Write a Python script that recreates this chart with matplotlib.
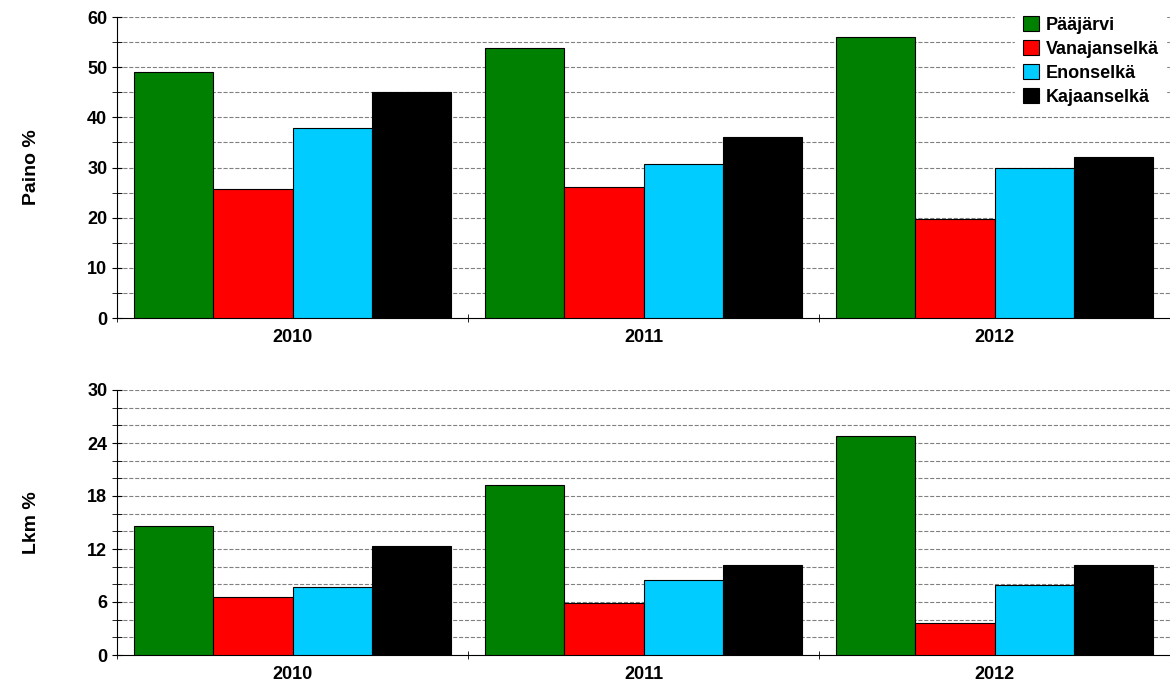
import matplotlib
matplotlib.use("Agg")
import matplotlib.pyplot as plt
import numpy as np

plt.rcParams['font.family'] = 'Liberation Sans'
plt.rcParams['font.weight'] = 'bold'

years = ["2010", "2011", "2012"]
lakes = ["Pääjärvi", "Vanajanselkä", "Enonselkä", "Kajaanselkä"]
colors = ["#008000", "#ff0000", "#00ccff", "#000000"]
paino = [[49, 53.8, 56], [25.8, 26.2, 19.8], [37.8, 30.7, 30], [45, 36, 32]]
lkm = [[14.6, 19.3, 24.8], [6.6, 5.9, 3.6], [7.7, 8.5, 7.9], [12.3, 10.2, 10.2]]

fig = plt.figure(figsize=(11.7, 6.94), dpi=100)
ax1 = fig.add_axes([117/1170, 1-318/694, 1053/1170, 301/694])
ax2 = fig.add_axes([117/1170, 1-655/694, 1053/1170, 265/694])

x = np.arange(len(years))
w = 0.226
for ax, data, ymax, major, minor, label in [
        (ax1, paino, 60, 10, 5, "Paino %"), (ax2, lkm, 30, 6, 2, "Lkm %")]:
    for i, (vals, c) in enumerate(zip(data, colors)):
        ax.bar(x + (i - 1.5) * w, vals, w, color=c, edgecolor="black",
               linewidth=0.8, label=lakes[i], zorder=3)
    ax.set_xlim(-0.5, 2.5)
    ax.set_ylim(0, ymax)
    ax.set_yticks(np.arange(0, ymax + 1, major))
    ax.set_yticks(np.arange(0, ymax + 1, minor), minor=True)
    for yv in np.arange(minor, ymax + 0.1, minor):
        ax.axhline(yv, color="gray", linestyle="--", linewidth=0.8, zorder=1)
    ax.set_xticks(x)
    ax.set_xticklabels(years, fontsize=13, fontweight="bold")
    ax.set_xticks([-0.5, 0.5, 1.5, 2.5], minor=True)
    ax.tick_params(axis="x", which="major", length=0, pad=8)
    ax.tick_params(axis="x", which="minor", length=6, direction="inout")
    ax.tick_params(axis="y", which="both", direction="inout", length=7, labelsize=13)
    for s in ["top", "right"]:
        ax.spines[s].set_visible(False)
    ax.set_ylabel(label, fontsize=14, fontweight="bold", labelpad=34)
    for t in ax.get_yticklabels():
        t.set_fontweight("bold")

leg = ax1.legend(loc="upper right", bbox_to_anchor=(1.0, 1.04), frameon=True,
                 fancybox=False, edgecolor="white", framealpha=1,
                 fontsize=13, handlelength=0.9, handleheight=0.9,
                 borderaxespad=0.2, labelspacing=0.35, handletextpad=0.4)
leg.set_zorder(5)

fig.savefig("out.png", dpi=100)
